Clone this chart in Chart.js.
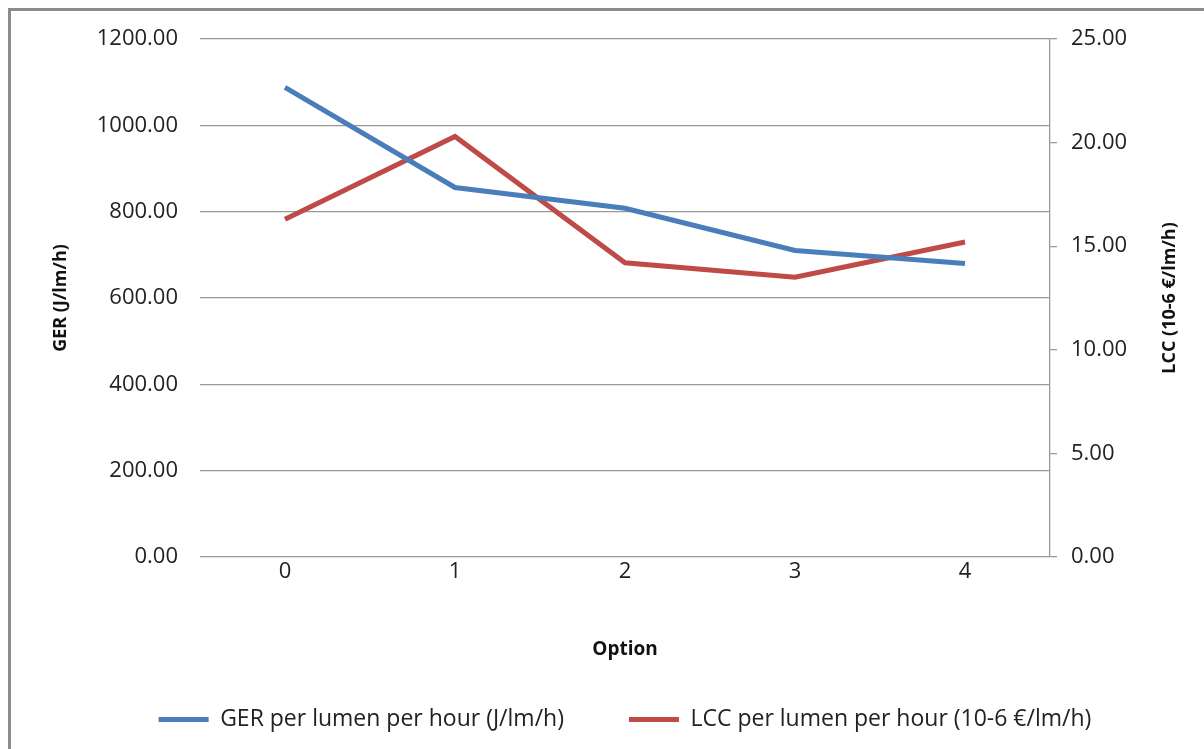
<!DOCTYPE html>
<html>
<head>
<meta charset="utf-8">
<script src="https://cdn.jsdelivr.net/npm/chart.js@4"></script>
<style>
  html, body { margin: 0; padding: 0; background: #fff; }
  #wrap { position: absolute; left: 0; top: 0; width: 1204px; height: 749px; }
  #frame { position: absolute; left: 8px; top: 8px; width: 1210px; height: 760px;
           border: 3px solid #8c8c8c; box-sizing: border-box; pointer-events: none; }
</style>
</head>
<body>
<div id="wrap">
  <canvas id="chart" width="1204" height="749"></canvas>
  <div id="frame"></div>
</div>
<script>
// data
const options = ['0', '1', '2', '3', '4'];
const gerValues = [1088, 856, 808, 710, 680];
const lccValues = [16.3, 20.3, 14.2, 13.5, 15.2];
const rightTitle = 'LCC (10-6 €/lm/h)';

const FONT = "'Open Sans', 'Noto Sans', sans-serif";

// right axis title reads bottom-to-top like the left one
const rightTitlePlugin = {
  id: 'rightTitle',
  afterDraw(c) {
    const area = c.chartArea;
    const g = c.ctx;
    g.save();
    g.translate(1170, (area.top + area.bottom) / 2);
    g.rotate(-Math.PI / 2);
    g.fillStyle = '#111';
    g.font = 'bold 18px ' + FONT;
    g.textAlign = 'center';
    g.textBaseline = 'middle';
    g.fillText(rightTitle, 0, 0);
    g.restore();
  }
};

const ctx = document.getElementById('chart').getContext('2d');
const chart = new Chart(ctx, {
  type: 'line',
  data: {
    labels: options,
    datasets: [
      {
        label: 'GER per lumen per hour (J/lm/h)',
        data: gerValues,
        borderColor: '#4a7ebb',
        backgroundColor: '#4a7ebb',
        borderWidth: 5,
        pointRadius: 0,
        tension: 0,
        yAxisID: 'y'
      },
      {
        label: 'LCC per lumen per hour (10-6 €/lm/h)',
        data: lccValues,
        borderColor: '#be4b48',
        backgroundColor: '#be4b48',
        borderWidth: 5,
        pointRadius: 0,
        tension: 0,
        yAxisID: 'y1'
      }
    ]
  },
  options: {
    responsive: false,
    animation: false,
    layout: {
      padding: { left: 46, right: 0, top: 39, bottom: 8 }
    },
    scales: {
      x: {
        offset: true,
        afterFit: s => { s.height = 86; },
        grid: { display: false, drawTicks: false },
        border: { display: false },
        ticks: { color: '#222', font: { family: FONT, size: 22 }, padding: 2 },
        title: {
          display: true,
          text: 'Option',
          color: '#111',
          font: { family: FONT, size: 19, weight: 'bold' },
          padding: { top: 50, bottom: -18 }
        }
      },
      y: {
        position: 'left',
        min: 0,
        max: 1200,
        afterFit: s => { s.width = 154; },
        ticks: {
          stepSize: 200,
          color: '#222',
          padding: 22,
          font: { family: FONT, size: 22 },
          callback: v => v.toFixed(2)
        },
        grid: { color: '#999', lineWidth: 1.3, drawTicks: false },
        border: { display: false },
        title: {
          display: true,
          text: 'GER (J/lm/h)',
          color: '#111',
          font: { family: FONT, size: 18, weight: 'bold' },
          padding: { bottom: 14 }
        }
      },
      y1: {
        position: 'right',
        min: 0,
        max: 25,
        afterFit: s => { s.width = 154; },
        ticks: {
          stepSize: 5,
          color: '#222',
          padding: 14,
          font: { family: FONT, size: 22 },
          callback: v => v.toFixed(2)
        },
        grid: { drawOnChartArea: false, color: '#999', tickLength: 7, lineWidth: 1.3 },
        border: { display: true, color: '#999', width: 1.3 }
      }
    },
    plugins: {
      legend: {
        position: 'bottom',
        labels: {
          boxWidth: 50,
          boxHeight: 0,
          padding: 65,
          color: '#222',
          font: { family: FONT, size: 23 }
        }
      },
      tooltip: { enabled: false }
    }
  },
  plugins: [rightTitlePlugin]
});
</script>
</body>
</html>
